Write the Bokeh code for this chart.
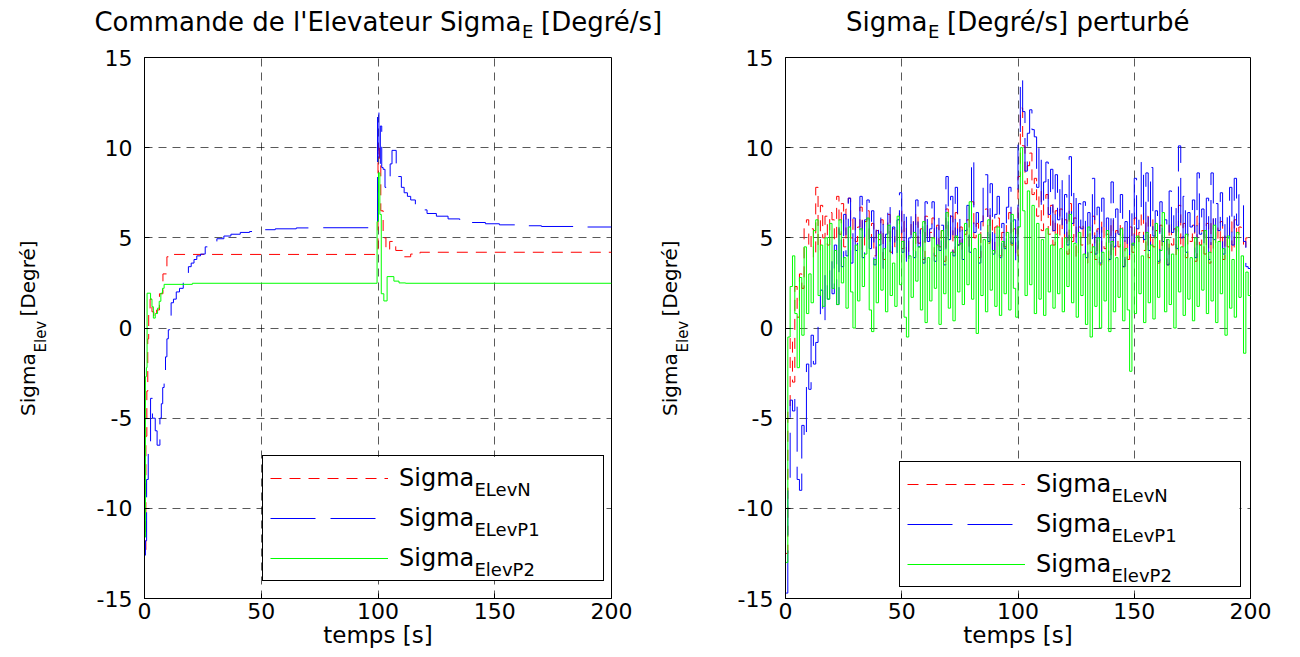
import numpy as np
from math import pi
from bokeh.plotting import figure
from bokeh.models import Range1d, FixedTicker, Legend, LegendItem
from bokeh.layouts import row, column
from bokeh.core.properties import value
from bokeh.embed import file_html
from bokeh.resources import INLINE

FONT = "DejaVu Sans"

# ---------------- axes ticks ----------------
x_ticks = [0, 50, 100, 150, 200]
x_tick_labels = ["0", "50", "100", "150", "200"]
y_ticks = [-15, -10, -5, 0, 5, 10, 15]
y_tick_labels = ["-15", "-10", "-5", "0", "5", "10", "15"]

# ---------------- texts ----------------
legend_main = "Sigma"
legend_subs = ["ELevN", "ELevP1", "ElevP2"]
title_left = ["Commande de l'Elevateur Sigma", "E", "[Degré/s]"]
title_right = ["Sigma", "E", "[Degré/s] perturbé"]
ylabel_parts = ["Sigma", "Elev", "[Degré]"]
xlabel = "temps [s]"

# ---------------- left plot : nominal (staircase breakpoints) ----------------
red_n_t = [0, 0.6, 1.0, 1.4, 1.8, 2.4, 3.2, 4.0, 5.2, 6.4, 7.9, 9.6, 11.5,
           100.0, 100.6, 101.2, 102.2, 103.4, 105.0, 107.6, 110.6, 114.0, 118.0, 200.0]
red_n_v = [-12.3, -6.0, -3.5, -0.6, 0.8, 1.6, 0.9, 0.6, 1.0, 1.9, 3.0, 3.95, 4.08,
           10.3, 9.0, 6.5, 5.0, 4.3, 4.8, 4.3, 3.95, 4.1, 4.2, 4.2]

blue_p1_t = [0, 0.4, 0.9, 1.6, 2.6, 3.4, 4.6, 5.4, 6.6, 7.2,
             7.8, 8.4, 9.0, 9.6, 10.2, 10.8, 11.4, 12.4, 13.6, 15.0,
             16.6, 17.6, 18.8, 20.0, 21.2, 22.4, 24.0, 26.0, 28.5, 31.0,
             34.0, 37.0, 41.0, 45.0, 50.0, 56.0, 65.0, 75.0, 99.8, 100.4,
             101.0, 101.6, 102.2, 103.0, 104.4, 105.2, 106.0, 107.8, 108.8, 110.0,
             111.2, 112.6, 114.0, 116.0, 118.0, 121.0, 125.0, 130.0, 135.0, 140.0,
             146.0, 152.0, 160.0, 170.0, 185.0, 200.0]
blue_p1_v = [-12.6, -11.8, -8.4, -6.6, -3.9, -5.0, -5.7, -6.5, -5.0, -4.2,
             -3.3, -2.5, -1.6, -0.6, -0.1, 0.6, 1.4, 1.6, 2.0, 2.2,
             2.6, 3.0, 3.4, 3.6, 3.8, 4.0, 4.1, 4.5, 4.7, 4.95,
             5.1, 5.2, 5.3, 5.35, 5.45, 5.5, 5.55, 5.56, 12.2, 8.9,
             11.2, 8.9, 8.8, 7.8, 8.4, 9.1, 9.85, 9.1, 8.4, 7.8,
             7.5, 7.3, 7.1, 6.8, 6.55, 6.35, 6.2, 6.05, 5.95, 5.85,
             5.78, 5.72, 5.67, 5.63, 5.6, 5.6]

green_p2_t = [0, 0.4, 0.8, 1.1, 2.6, 3.2, 3.8, 4.6, 5.6, 6.3, 7.0, 7.7, 8.4, 20.5,
              99.6, 100.2, 100.8, 101.4, 102.5, 103.9, 106.8, 109.0, 111.8, 200.0]
green_p2_v = [-11.6, -2.7, -2.2, 1.93, 1.6, 1.18, 0.55, 0.8, 1.1, 1.48, 1.93, 2.2, 2.42, 2.48,
              5.9, 8.6, 6.3, 1.9, 1.5, 2.85, 2.6, 2.5, 2.48, 2.48]

# ---------------- right plot : perturbed (one sample per second) ----------------
t_pert = np.arange(0, 201, 1.0)

red_pert = [
    -12.5, -4.5, -0.5, -3.0, 2.3, 0.6, 3.0, 2.2, 5.6, 6.0,
    4.4, 5.5, 3.9, 7.8, 4.3, 6.8, 5.0, 6.2, 4.6, 6.4,
    6.0, 4.8, 7.3, 5.2, 6.9, 4.5, 6.6, 7.2, 5.0, 6.2,
    4.8, 5.6, 6.7, 4.3, 5.9, 6.5, 4.6, 5.8, 4.0, 5.4,
    4.9, 6.0, 3.8, 5.1, 6.3, 4.2, 5.5, 4.5, 5.7, 6.6,
    4.4, 5.9, 3.9, 5.0, 6.0, 4.3, 6.4, 4.7, 5.5, 3.8,
    6.2, 4.8, 5.3, 6.1, 4.0, 5.7, 4.5, 5.4, 3.7, 6.6,
    4.9, 6.2, 4.2, 6.4, 4.6, 5.6, 4.0, 5.2, 6.0, 4.4,
    7.0, 5.0, 5.8, 3.9, 5.4, 6.4, 6.6, 4.7, 6.3, 4.1,
    5.6, 6.1, 4.0, 5.3, 4.5, 5.9, 6.4, 4.6, 5.5, 3.9,
    8.4, 12.2, 10.1, 8.0, 9.0, 9.7, 7.4, 8.3, 6.2, 7.6,
    5.4, 6.9, 7.4, 5.2, 6.8, 4.6, 6.5, 5.0, 6.6, 4.4,
    6.0, 4.1, 6.9, 4.8, 6.1, 3.9, 5.6, 4.6, 5.8, 3.6,
    5.4, 4.2, 6.2, 3.8, 5.5, 3.5, 5.9, 4.4, 5.2, 3.7,
    6.0, 4.0, 5.4, 4.5, 5.8, 3.4, 5.1, 3.8, 5.6, 4.2,
    6.1, 4.7, 5.3, 6.5, 4.3, 6.2, 3.9, 6.3, 4.5, 5.4,
    3.6, 5.7, 4.3, 5.1, 3.5, 5.9, 4.6, 5.5, 4.0, 6.8,
    4.4, 5.8, 3.9, 5.2, 4.8, 5.7, 3.7, 6.2, 4.6, 5.4,
    4.1, 5.8, 3.6, 6.1, 4.4, 5.6, 4.7, 5.9, 3.8, 5.2,
    4.5, 5.9, 4.2, 6.0, 4.9, 5.6, 5.4, 4.4, 5.0, 4.7,
    4.7]

blue_pert = [
    -14.7, -9.0, -4.0, -4.6, -3.8, -8.4, -9.0, -5.4, -6.2, -2.0,
    -3.4, -0.4, -2.0, -0.8, 0.3, 2.1, 0.4, 3.0, 1.6, 3.8,
    1.9, 4.6, 1.3, 5.6, 3.4, 6.3, 4.0, 7.2, 3.6, 6.1,
    4.3, 5.4, 7.3, 3.9, 6.0, 7.1, 4.4, 6.5, 3.5, 5.8,
    4.6, 6.3, 3.3, 5.2, 6.9, 3.8, 5.6, 4.1, 6.0, 7.5,
    4.2, 6.6, 3.4, 5.0, 6.4, 3.9, 7.1, 4.5, 5.9, 3.6,
    7.0, 4.8, 5.5, 7.0, 3.7, 6.2, 4.3, 5.7, 3.5, 8.4,
    4.9, 7.3, 4.0, 7.8, 4.6, 6.1, 3.8, 5.4, 6.8, 4.2,
    9.4, 5.3, 6.4, 3.6, 5.9, 8.2, 8.5, 4.8, 8.0, 4.1,
    6.3, 7.3, 3.9, 5.8, 4.4, 6.7, 7.8, 4.7, 6.0, 3.7,
    10.2, 13.9, 12.0, 8.7, 10.8, 12.1, 11.0, 10.6, 7.8, 10.0,
    6.6, 8.1, 9.2, 6.3, 8.8, 5.4, 8.5, 6.0, 8.3, 5.1,
    7.4, 4.6, 9.5, 5.8, 7.7, 4.3, 6.9, 5.5, 7.0, 3.9,
    6.4, 4.8, 8.3, 4.1, 6.7, 3.6, 7.2, 5.0, 6.1, 3.8,
    8.1, 4.5, 6.6, 5.2, 7.4, 3.4, 5.9, 4.0, 6.8, 4.6,
    8.3, 5.5, 6.2, 9.2, 4.9, 8.6, 4.3, 8.9, 5.1, 6.5,
    3.7, 7.0, 4.8, 6.0, 3.5, 7.6, 5.3, 6.8, 4.4, 10.1,
    5.0, 7.3, 4.2, 6.4, 5.6, 7.1, 3.9, 8.6, 5.2, 6.6,
    4.5, 7.2, 3.8, 8.6, 4.9, 6.9, 5.4, 7.5, 4.1, 6.3,
    5.0, 7.8, 4.6, 8.3, 5.7, 7.4, 6.8, 4.8, 3.4, 3.3,
    3.3]

green_pert = [
    -13.0, -0.5, 2.3, 4.0, 0.8, -2.2, 2.8, -0.4, 4.5, 0.8,
    3.0, 1.4, 5.4, 6.0, 1.8, 4.6, 1.2, 5.0, 1.6, 5.8,
    2.2, 4.3, 1.3, 6.0, 2.5, 3.9, 1.1, 5.6, 2.0, 0.0,
    4.6, 1.5, 5.5, 2.3, 4.1, 6.1, 1.0, -0.2, 3.8, 1.4,
    5.2, 2.1, 4.4, 0.9, 5.7, 1.8, 3.6, 1.2, 6.2, 2.4,
    4.8, 0.6, -0.5, 4.0, 1.7, 5.3, 2.6, 4.5, 1.0, 5.9,
    0.3, 3.9, 1.5, 5.0, 2.2, 4.6, 0.2, 5.4, 1.9, 6.4,
    1.1, 4.2, 0.4, 5.1, 2.0, 4.7, 1.3, 5.8, 2.4, 7.0,
    1.6, 4.4, -0.3, 5.2, 1.8, 4.9, 0.9, 6.0, 2.1, 4.3,
    1.2, 5.6, 0.7, 4.8, 1.9, 5.3, 1.0, 6.3, 2.2, 0.6,
    5.6, 10.0, 6.5, 1.8, 7.6, 2.4, 6.8, 0.8, 5.8, 1.6,
    4.9, 0.7, 5.5, 2.0, 4.6, 1.1, 5.2, 1.9, 4.4, 0.9,
    5.0, 2.3, 6.3, 1.4, 4.7, 0.6, 5.3, 1.8, 4.1, 0.2,
    5.6, -0.5, 4.5, 1.2, 5.0, 0.0, 4.2, 1.5, 5.4, -0.2,
    4.8, 0.9, 3.9, 1.7, 5.5, 0.4, 4.4, 1.0, -2.4, 4.7,
    0.8, 5.1, 1.9, 4.0, 0.3, 5.3, 1.4, 4.6, 0.5, 5.8,
    1.7, 4.3, 6.4, 0.9, 4.9, 1.3, 4.1, 0.0, 5.6, 2.0,
    4.5, 0.7, 5.2, 1.6, 3.9, 0.4, 5.0, 1.2, 4.6, 2.1,
    5.4, 0.8, 4.2, 1.5, 5.7, 0.3, 4.8, 1.9, 4.4, -0.4,
    5.1, 1.1, 3.8, 0.6, 5.3, 1.7, 4.0, -1.4, 3.1, 1.8,
    1.8]

RED, BLUE, GREEN = "#ff0000", "#0000ff", "#00ff00"
DASH_RED = "11 8"
DASH_BLUE = "45 15"

TOP_H = 45          # title strip height
MAIN_H = 657 - TOP_H
YLAB_W = 60         # y-label strip width
FRAME_H = 541
BORDER_TOP = MAIN_H - 59 - FRAME_H
BORDER_BOTTOM = 59


def make_axes(width, frame_left, border_right):
    p = figure(width=width, height=MAIN_H, x_range=Range1d(0, 200), y_range=Range1d(-15, 15),
               output_backend="svg", toolbar_location=None, tools="",
               min_border_left=frame_left, min_border_right=border_right,
               min_border_top=BORDER_TOP, min_border_bottom=BORDER_BOTTOM)
    p.background_fill_color = "white"
    p.border_fill_color = "white"
    p.outline_line_color = "black"
    p.outline_line_width = 1
    p.outline_line_alpha = 1
    p.xaxis.ticker = FixedTicker(ticks=x_ticks)
    p.yaxis.ticker = FixedTicker(ticks=y_ticks)
    p.xgrid.ticker = FixedTicker(ticks=x_ticks)
    p.ygrid.ticker = FixedTicker(ticks=y_ticks)
    p.xaxis.major_label_overrides = {t: s for t, s in zip(x_ticks, x_tick_labels)}
    p.yaxis.major_label_overrides = {t: s for t, s in zip(y_ticks, y_tick_labels)}
    for ax in (p.xaxis, p.yaxis):
        ax.major_label_text_font = FONT
        ax.major_label_text_font_size = "22px"
        ax.major_label_text_color = "black"
        ax.major_tick_in = 5
        ax.major_tick_out = 0
        ax.minor_tick_in = 0
        ax.minor_tick_out = 0
        ax.axis_line_color = "black"
        ax.major_tick_line_color = "black"
    p.xaxis.major_label_standoff = 4
    p.yaxis.major_label_standoff = 12
    p.xaxis.axis_label = xlabel
    p.xaxis.axis_label_text_font = FONT
    p.xaxis.axis_label_text_font_size = "23px"
    p.xaxis.axis_label_text_font_style = "normal"
    p.xaxis.axis_label_text_color = "black"
    p.xaxis.axis_label_standoff = 0
    p.grid.grid_line_color = "black"
    p.grid.grid_line_alpha = 0.65
    p.grid.grid_line_dash = "8 6"
    p.grid.grid_line_width = 1
    return p


def make_strip(width, height, y_lo, y_hi, b_top=0, b_bottom=0):
    s = figure(width=width, height=height, x_range=Range1d(0, width), y_range=Range1d(y_lo, y_hi),
               x_axis_type=None, y_axis_type=None, output_backend="svg",
               toolbar_location=None, tools="", min_border=0,
               min_border_top=b_top, min_border_bottom=b_bottom,
               min_border_left=0, min_border_right=0)
    s.outline_line_color = None
    s.background_fill_color = "white"
    s.border_fill_color = "white"
    return s


def put_text(s, x, y, text, size, align="left", angle=0.0, level="glyph"):
    s.text(x=[x], y=[y], text=[text], text_font=value(FONT), text_font_size=value(size),
           text_color="black", text_align=align, text_baseline="middle", angle=angle,
           level=level)


# ---------------- main figures ----------------
p1 = make_axes(650 - YLAB_W, 144 - YLAB_W, 39)
r1 = p1.step(red_n_t, red_n_v, mode="after", line_color=RED, line_width=1, line_dash=DASH_RED)
b1 = p1.step(blue_p1_t, blue_p1_v, mode="after", line_color=BLUE, line_width=1, line_dash=DASH_BLUE)
g1 = p1.step(green_p2_t, green_p2_v, mode="after", line_color=GREEN, line_width=1)

p2 = make_axes(650 - YLAB_W, 785 - 650 - YLAB_W, 50)
r2 = p2.step(t_pert, red_pert, mode="after", line_color=RED, line_width=1, line_dash=DASH_RED)
b2 = p2.step(t_pert, blue_pert, mode="after", line_color=BLUE, line_width=1, line_dash=DASH_BLUE)
g2 = p2.step(t_pert, green_pert, mode="after", line_color=GREEN, line_width=1)

LEG_W, LEG_H = 340, 124


def add_legend(p, rends, loc, frame_w, sub_px_x, sub_px_ys):
    sx = 200.0 / frame_w
    sy = 30.0 / FRAME_H
    # white backing of the legend box (hides the grid below the legend)
    p.quad(left=[loc[0] * sx], right=[(loc[0] + LEG_W) * sx],
           bottom=[-15 + loc[1] * sy], top=[-15 + (loc[1] + LEG_H) * sy],
           fill_color="white", line_color=None)
    leg = Legend(items=[LegendItem(label=legend_main, renderers=[r]) for r in rends],
                 location=loc, margin=0, padding=7, spacing=10,
                 glyph_width=118, glyph_height=30, label_height=30, label_width=197,
                 label_standoff=11, label_text_font=FONT, label_text_font_size="24px",
                 label_text_color="black", label_text_baseline="middle",
                 border_line_color="black", border_line_width=1, border_line_alpha=1,
                 background_fill_alpha=0)
    p.add_layout(leg)
    # subscripts of the legend labels
    for sub, py in zip(legend_subs, sub_px_ys):
        put_text(p, sub_px_x * sx, -15 + py * sy, sub, "18px", level="overlay")


add_legend(p1, [r1, b1, g1], (118, 17.5), 467, 330, [109.5, 69.5, 29.5])
add_legend(p2, [r2, b2, g2], (114, 11), 465, 326, [103, 63, 23])

# ---------------- title strip (data y = TOP_H - canvas y) ----------------
top = make_strip(1300, TOP_H, 0, TOP_H)
for parts, j in ((title_left, 521.0), (title_right, 927.0)):
    put_text(top, j, TOP_H - 21.5, parts[0], "26px", align="right")
    put_text(top, j + 0.5, TOP_H - 30.5, parts[1], "18px")
    put_text(top, j + 19.5, TOP_H - 21.5, parts[2], "26px")


# ---------------- y-label strips (data y = 657 - canvas y) ----------------
def make_ylabel(mid_x):
    s = make_strip(YLAB_W, MAIN_H, BORDER_BOTTOM, 657 - TOP_H - BORDER_TOP,
                   b_top=BORDER_TOP, b_bottom=BORDER_BOTTOM)
    put_text(s, mid_x, 657 - 352.8, ylabel_parts[0], "20px", align="right", angle=pi / 2)
    put_text(s, mid_x + 13, 657 - 352.0, ylabel_parts[1], "15px", angle=pi / 2)
    put_text(s, mid_x, 657 - 316.0, ylabel_parts[2], "20px", angle=pi / 2)
    return s


yl1 = make_ylabel(27)
yl2 = make_ylabel(19)

layout = column(top, row(yl1, p1, yl2, p2, spacing=0), spacing=0)
open("out.html", "w").write(file_html(layout, INLINE))
